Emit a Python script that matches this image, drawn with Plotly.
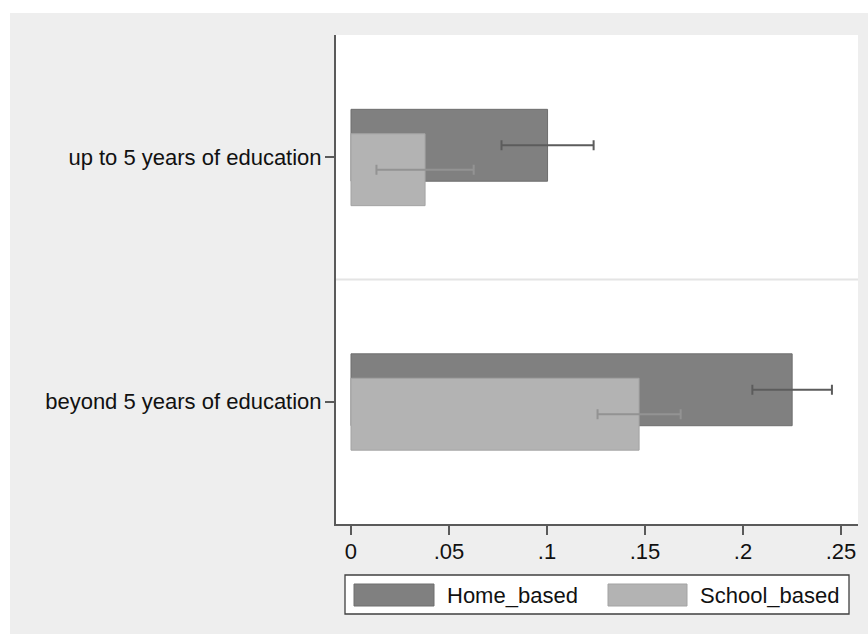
import plotly.graph_objects as go

# ---- data ----
categories = ["up to 5 years of education", "beyond 5 years of education"]
home_mean = [0.1003, 0.2251]
home_ci = [0.0235, 0.0203]
school_mean = [0.0378, 0.1470]
school_ci = [0.0248, 0.0212]
series_names = ["Home_based", "School_based"]
tick_values = [0, 0.05, 0.10, 0.15, 0.20, 0.25]
tick_labels = ["0", ".05", ".1", ".15", ".2", ".25"]

# ---- style ----
W, H = 868, 634
M_L, M_R, M_T, M_B = 336, 10, 35, 110
PLOT_W = W - M_L - M_R
PLOT_H = H - M_T - M_B
FONT = "Liberation Sans, Arial, Helvetica, sans-serif"
FS = 22
TXT_COL = "#111111"
AXIS_COL = "#5a5a5a"
HOME_FILL, HOME_LINE, HOME_ERR = "#808080", "#6e6e6e", "#5c5c5c"
SCHOOL_FILL, SCHOOL_LINE, SCHOOL_ERR = "#b3b3b3", "#a3a3a3", "#939393"
BAR_W = 0.294


def px_x(px):
    return (px - M_L) / PLOT_W


def px_y(py):
    return (H - M_B - py) / PLOT_H


fig = go.Figure()
fig.add_trace(go.Bar(
    y=categories, x=home_mean, orientation="h", name=series_names[0],
    width=BAR_W, offset=-0.196,
    marker=dict(color=HOME_FILL, line=dict(color=HOME_LINE, width=1)),
    error_x=dict(type="data", array=home_ci, color=HOME_ERR, thickness=2, width=5),
))
fig.add_trace(go.Bar(
    y=categories, x=school_mean, orientation="h", name=series_names[1],
    width=BAR_W, offset=-0.096,
    marker=dict(color=SCHOOL_FILL, line=dict(color=SCHOOL_LINE, width=1)),
    error_x=dict(type="data", array=school_ci, color=SCHOOL_ERR, thickness=2, width=5),
))

shapes = [
    # white page strips around the grey graph region
    dict(type="rect", xref="paper", yref="paper", x0=px_x(0), x1=px_x(10),
         y0=px_y(H + 5), y1=px_y(0), fillcolor="white", line=dict(width=0), layer="below"),
    dict(type="rect", xref="paper", yref="paper", x0=px_x(0), x1=px_x(W),
         y0=px_y(13), y1=px_y(0), fillcolor="white", line=dict(width=0), layer="below"),
    # separator between the two groups
    dict(type="line", xref="paper", yref="y", x0=0, x1=1, y0=0.5, y1=0.5,
         line=dict(color="#e4e4e4", width=2), layer="below"),
    # legend frame
    dict(type="rect", xref="paper", yref="paper", x0=px_x(345), x1=px_x(849),
         y0=px_y(614), y1=px_y(575), fillcolor="white",
         line=dict(color="#404040", width=1.3)),
    # legend swatches
    dict(type="rect", xref="paper", yref="paper", x0=px_x(354), x1=px_x(434),
         y0=px_y(606), y1=px_y(584), fillcolor=HOME_FILL,
         line=dict(color=HOME_LINE, width=1)),
    dict(type="rect", xref="paper", yref="paper", x0=px_x(608), x1=px_x(687),
         y0=px_y(606), y1=px_y(584), fillcolor=SCHOOL_FILL,
         line=dict(color=SCHOOL_LINE, width=1)),
]

annotations = [
    dict(text=series_names[0], xref="paper", yref="paper", x=px_x(445), y=px_y(595.5),
         xanchor="left", yanchor="middle", showarrow=False,
         font=dict(family=FONT, size=FS, color=TXT_COL)),
    dict(text=series_names[1], xref="paper", yref="paper", x=px_x(698), y=px_y(595.5),
         xanchor="left", yanchor="middle", showarrow=False,
         font=dict(family=FONT, size=FS, color=TXT_COL)),
]

fig.update_layout(
    width=W, height=H,
    margin=dict(l=M_L, r=M_R, t=M_T, b=M_B, pad=0),
    barmode="overlay",
    showlegend=False,
    paper_bgcolor="#eeeeee",
    plot_bgcolor="white",
    font=dict(family=FONT, size=FS, color=TXT_COL),
    shapes=shapes,
    annotations=annotations,
    xaxis=dict(
        range=[-0.00765, 0.2587], tickvals=tick_values, ticktext=tick_labels,
        showgrid=False, zeroline=False, showline=True, linecolor=AXIS_COL, linewidth=2,
        ticks="outside", ticklen=9, tickwidth=1.5, tickcolor=AXIS_COL,
        ticklabelstandoff=-2,
        tickfont=dict(family=FONT, size=FS, color=TXT_COL),
    ),
    yaxis=dict(
        type="category", categoryorder="array", categoryarray=categories,
        range=[1.5, -0.5], showgrid=False, zeroline=False,
        showline=True, linecolor=AXIS_COL, linewidth=2,
        ticks="outside", ticklen=9, tickwidth=1.5, tickcolor=AXIS_COL,
        ticklabelstandoff=-1,
        tickfont=dict(family=FONT, size=FS, color=TXT_COL),
    ),
)

fig.write_html("out.html")
